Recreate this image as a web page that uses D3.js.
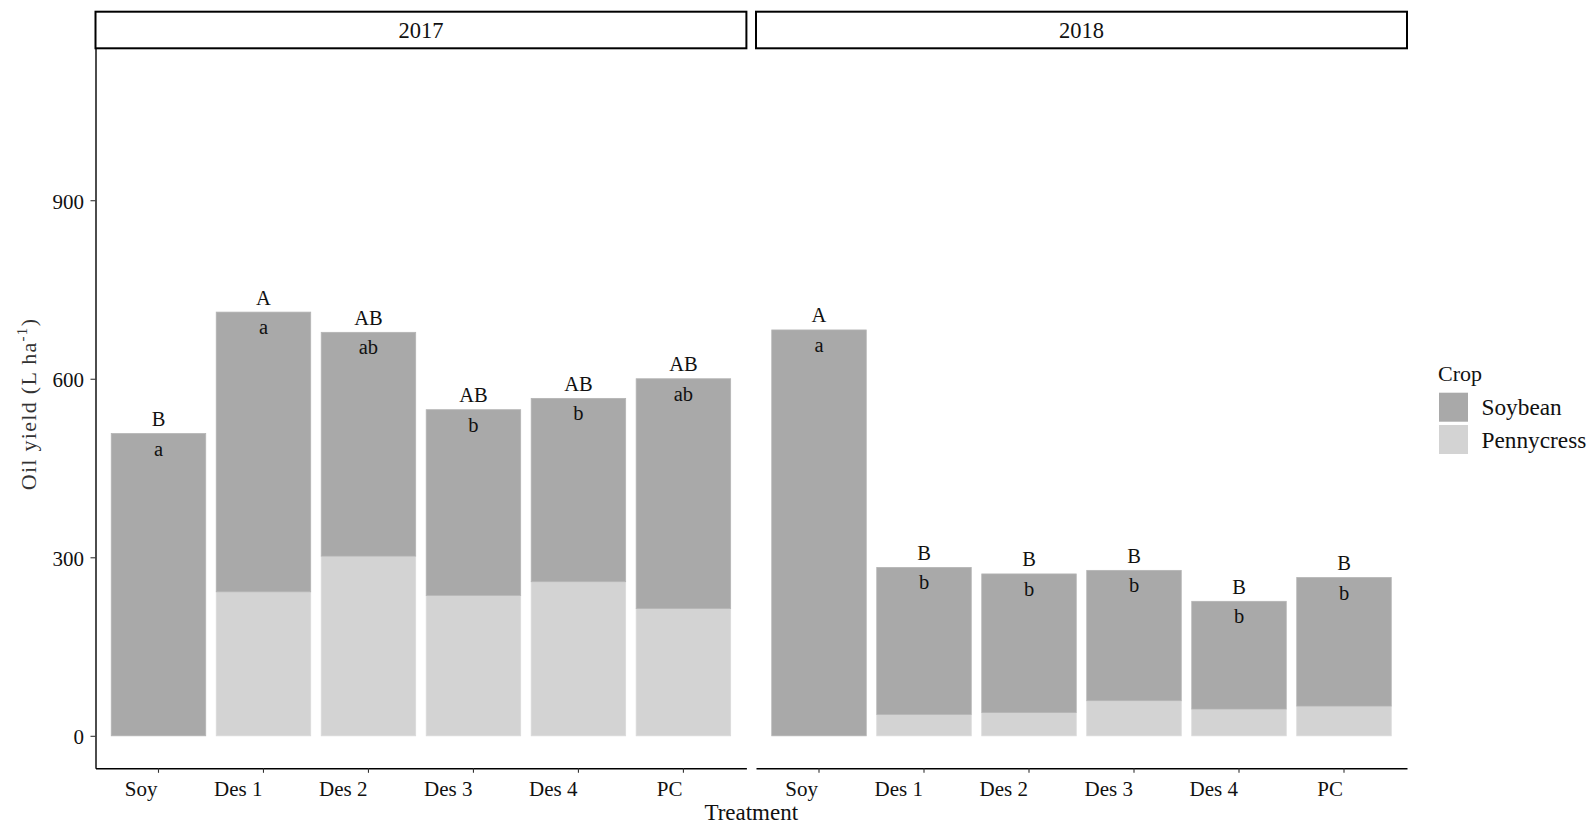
<!DOCTYPE html>
<html>
<head>
<meta charset="utf-8">
<script src="https://cdn.jsdelivr.net/npm/d3@7"></script>
<style>
  body { margin: 0; background: #fff; }
  text { font-family: "Liberation Serif", "Times New Roman", serif; fill: #111; }
</style>
</head>
<body>
<svg id="chart" width="1594" height="824"></svg>
<script>
// Oil yield by treatment, faceted by year; pennycress stacked under soybean
const treatments = ["Soy", "Des 1", "Des 2", "Des 3", "Des 4", "PC"];
const years = ["2017", "2018"];
const crops = ["Soybean", "Pennycress"];

const soybean2017    = [508, 470, 376, 312, 308, 386];
const pennycress2017 = [0, 242, 302, 236, 259, 214];
const soybean2018    = [682, 247, 233, 219, 181, 216];
const pennycress2018 = [0, 36, 39, 59, 45, 50];

// mean-separation letters: total yield (upper case), soybean yield (lower case)
const totalLetters2017 = ["B", "A", "AB", "AB", "AB", "AB"];
const soyLetters2017   = ["a", "a", "ab", "b", "b", "ab"];
const totalLetters2018 = ["A", "B", "B", "B", "B", "B"];
const soyLetters2018   = ["a", "b", "b", "b", "b", "b"];

const yTicks = [0, 300, 600, 900];

const cropColor = { Soybean: "#a9a9a9", Pennycress: "#d3d3d3" };

const svg = d3.select("#chart");

const panelTop = 48.3, panelBottom = 768.3;
const stripTop = 11.7;
const panels = [
  { year: years[0], x0: 95.5, x1: 746.4, soy: soybean2017, pen: pennycress2017, up: totalLetters2017, low: soyLetters2017 },
  { year: years[1], x0: 756,  x1: 1407,  soy: soybean2018, pen: pennycress2018, up: totalLetters2018, low: soyLetters2018 }
];

const y = d3.scaleLinear().domain([-54.6, 1155.3]).range([panelBottom, panelTop]);

const stack = d3.stack().keys(["Pennycress", "Soybean"]);

panels.forEach((p, pi) => {
  const x = d3.scaleBand().domain(treatments).range([p.x0, p.x1])
    .paddingInner(0.1).paddingOuter(0.15);

  const rows = treatments.map((t, i) => ({ treatment: t, Soybean: p.soy[i], Pennycress: p.pen[i] }));
  const series = stack(rows);

  const g = svg.append("g");

  // stacked bars
  series.forEach(s => {
    g.selectAll(null).data(s).enter().append("rect")
      .attr("x", d => x(d.data.treatment))
      .attr("width", x.bandwidth())
      .attr("y", d => y(d[1]))
      .attr("height", d => Math.max(0, y(d[0]) - y(d[1])))
      .attr("fill", cropColor[s.key])
      .attr("stroke", s.key === "Soybean" ? "#b4b4b4" : "#dadada")
      .attr("stroke-width", 0.8);
  });

  // letters
  rows.forEach((r, i) => {
    const cx = x(r.treatment) + x.bandwidth() / 2;
    const top = y(r.Soybean + r.Pennycress);
    g.append("text").attr("x", cx).attr("y", top - 7.5)
      .attr("text-anchor", "middle").attr("font-size", 20.5).text(p.up[i]);
    g.append("text").attr("x", cx).attr("y", top + 22)
      .attr("text-anchor", "middle").attr("font-size", 20.5).text(p.low[i]);
  });

  // x axis
  const xAxis = g.append("g").attr("transform", `translate(0,${panelBottom})`)
    .call(d3.axisBottom(x).tickSize(4.5).tickSizeOuter(0));
  xAxis.select(".domain").attr("stroke", "#000").attr("stroke-width", 1.4);
  xAxis.selectAll(".tick line").attr("stroke", "#333").attr("stroke-width", 1.1);
  xAxis.selectAll(".tick text")
    .attr("text-anchor", "end").attr("x", -1).attr("y", 27.4).attr("dy", null)
    .attr("font-size", 21).attr("font-family", "Liberation Serif, serif").attr("fill", "#111");

  // y axis on first panel only
  if (pi === 0) {
    const yAxis = g.append("g").attr("transform", `translate(${p.x0},0)`)
      .call(d3.axisLeft(y).tickValues(yTicks).tickSize(5).tickSizeOuter(0));
    yAxis.select(".domain").attr("stroke", "#000").attr("stroke-width", 1.4);
    yAxis.selectAll(".tick line").attr("stroke", "#333").attr("stroke-width", 1.1);
    yAxis.selectAll(".tick text")
      .attr("x", -11.5).attr("dy", "0.38em")
      .attr("font-size", 21).attr("font-family", "Liberation Serif, serif").attr("fill", "#111");
  }

  // facet strip
  svg.append("rect").attr("x", p.x0).attr("y", stripTop)
    .attr("width", p.x1 - p.x0).attr("height", panelTop - stripTop)
    .attr("fill", "#fff").attr("stroke", "#000").attr("stroke-width", 2);
  svg.append("text").attr("x", (p.x0 + p.x1) / 2).attr("y", 38)
    .attr("text-anchor", "middle").attr("font-size", 22.5).text(p.year);
});

// axis titles
svg.append("text").attr("x", (panels[0].x0 + panels[1].x1) / 2).attr("y", 819.5)
  .attr("text-anchor", "middle").attr("font-size", 23).text("Treatment");

const yTitle = svg.append("text")
  .attr("transform", "translate(36,404) rotate(-90)")
  .attr("text-anchor", "middle").attr("font-size", 22).attr("letter-spacing", 1.3)
  .style("fill", "#333");
yTitle.append("tspan").text("Oil yield (L ha");
yTitle.append("tspan").attr("dy", -9).attr("font-size", 15).text("-1");
yTitle.append("tspan").attr("dy", 9).text(")");

// legend
const legend = svg.append("g").attr("transform", "translate(1438,0)");
legend.append("text").attr("x", 0).attr("y", 381).attr("font-size", 22).text("Crop");
crops.forEach((c, i) => {
  const ky = 392.7 + i * 32.3;
  legend.append("rect").attr("x", 1).attr("y", ky).attr("width", 29).attr("height", 29)
    .attr("fill", cropColor[c]);
  legend.append("text").attr("x", 43.5).attr("y", ky + 22.5).attr("font-size", 23.3).text(c);
});
</script>
</body>
</html>
